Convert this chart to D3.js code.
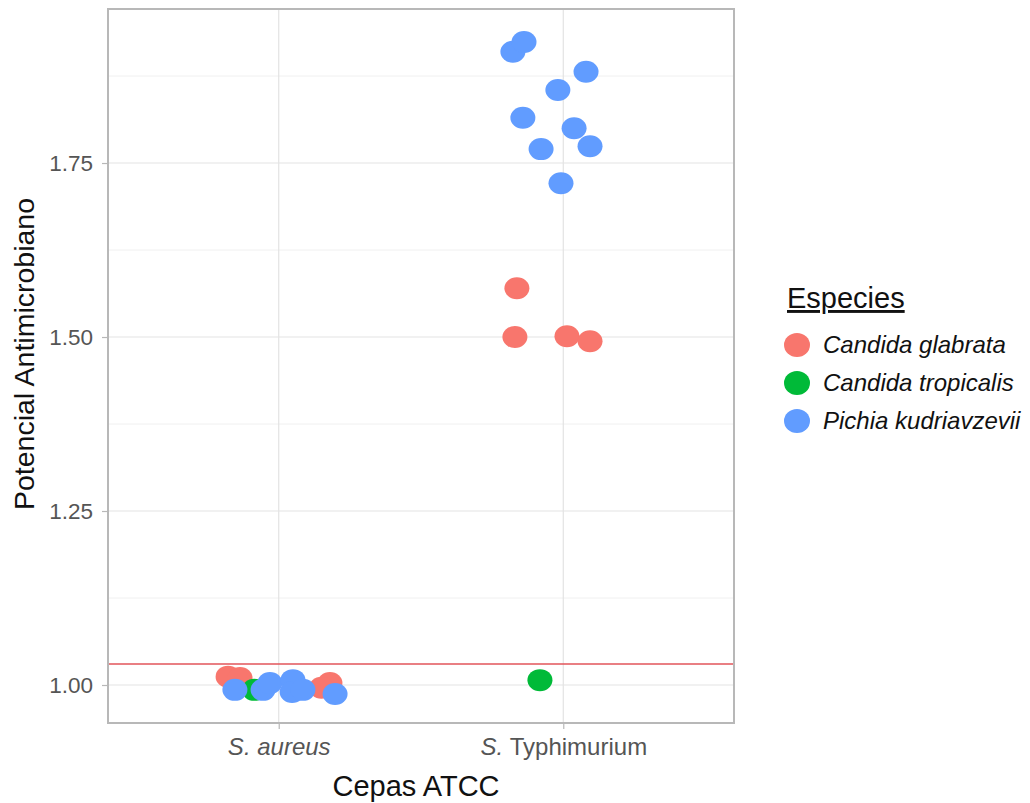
<!DOCTYPE html>
<html>
<head>
<meta charset="utf-8">
<script src="https://cdn.jsdelivr.net/npm/d3@7"></script>
<style>
  html, body { margin: 0; padding: 0; background: #ffffff; }
  svg { display: block; font-family: "Liberation Sans", Arial, Helvetica, sans-serif; }
</style>
</head>
<body>
<svg id="chart" width="1030" height="803"></svg>
<script>
// Strains on the x axis and the species legend
const categories = ["S. aureus", "S. Typhimurium"];
const species = ["Candida glabrata", "Candida tropicalis", "Pichia kudriavzevii"];
const speciesColors = ["#F8766D", "#00BA38", "#619CFF"];

// Antimicrobial potential per isolate; jitter is the horizontal offset within the strain
const glabrataAureus = [1.012, 1.010, 1.003, 0.996];
const glabrataAureusJitter = [-0.178, -0.136, 0.180, 0.150];
const tropicalisAureus = [0.993];
const tropicalisAureusJitter = [-0.086];
const kudriavzeviiAureus = [0.993, 0.993, 1.003, 1.007, 0.990, 0.993, 0.987];
const kudriavzeviiAureusJitter = [-0.154, -0.055, -0.031, 0.050, 0.047, 0.085, 0.198];

const glabrataTyphi = [1.570, 1.500, 1.501, 1.494];
const glabrataTyphiJitter = [-0.163, -0.170, 0.013, 0.094];
const tropicalisTyphi = [1.007];
const tropicalisTyphiJitter = [-0.082];
const kudriavzeviiTyphi = [1.910, 1.924, 1.881, 1.855, 1.815, 1.800, 1.770, 1.774, 1.721];
const kudriavzeviiTyphiJitter = [-0.177, -0.138, 0.080, -0.019, -0.142, 0.038, -0.078, 0.094, -0.008];

// Reference threshold line
const threshold = 1.03;

// Axis ticks
const yTicks = [1.00, 1.25, 1.50, 1.75];
const yMinorTicks = [1.125, 1.375, 1.625, 1.875];
const yDomain = [0.9454, 1.9713];

// Build a flat point table from the arrays above
function rows(values, jitter, cat, sp) {
  return values.map((v, i) => ({ cat: cat, sp: sp, value: v, jitter: jitter[i] }));
}
const points = [].concat(
  rows(glabrataAureus, glabrataAureusJitter, categories[0], species[0]),
  rows(glabrataTyphi, glabrataTyphiJitter, categories[1], species[0]),
  rows(tropicalisAureus, tropicalisAureusJitter, categories[0], species[1]),
  rows(tropicalisTyphi, tropicalisTyphiJitter, categories[1], species[1]),
  rows(kudriavzeviiAureus, kudriavzeviiAureusJitter, categories[0], species[2]),
  rows(kudriavzeviiTyphi, kudriavzeviiTyphiJitter, categories[1], species[2])
);

const svg = d3.select("#chart");
const panel = { left: 108, right: 734, top: 9, bottom: 723 };

const x = d3.scalePoint().domain(categories).range([panel.left, panel.right]).padding(0.6);
const step = x.step();
const y = d3.scaleLinear().domain(yDomain).range([panel.bottom, panel.top]);
const color = d3.scaleOrdinal().domain(species).range(speciesColors);

// Grid
const grid = svg.append("g");
grid.selectAll("line.minor").data(yMinorTicks).join("line")
  .attr("x1", panel.left).attr("x2", panel.right)
  .attr("y1", d => y(d)).attr("y2", d => y(d))
  .attr("stroke", "#f0f0f0").attr("stroke-width", 1);
grid.selectAll("line.majorY").data(yTicks).join("line")
  .attr("x1", panel.left).attr("x2", panel.right)
  .attr("y1", d => y(d)).attr("y2", d => y(d))
  .attr("stroke", "#e3e3e3").attr("stroke-width", 1.2);
grid.selectAll("line.majorX").data(categories).join("line")
  .attr("x1", d => x(d)).attr("x2", d => x(d))
  .attr("y1", panel.top).attr("y2", panel.bottom)
  .attr("stroke", "#e3e3e3").attr("stroke-width", 1.2);

// Threshold line
svg.append("line")
  .attr("x1", panel.left).attr("x2", panel.right)
  .attr("y1", y(threshold)).attr("y2", y(threshold))
  .attr("stroke", "#e2545a").attr("stroke-width", 1.5);

// Points
svg.append("g").selectAll("ellipse").data(points).join("ellipse")
  .attr("cx", d => x(d.cat) + d.jitter * step)
  .attr("cy", d => y(d.value))
  .attr("rx", 12.5).attr("ry", 11)
  .attr("fill", d => color(d.sp));

// Panel border
svg.append("rect")
  .attr("x", panel.left).attr("y", panel.top)
  .attr("width", panel.right - panel.left).attr("height", panel.bottom - panel.top)
  .attr("fill", "none").attr("stroke", "#b8b8b8").attr("stroke-width", 2);

// Y axis
const yAxis = svg.append("g")
  .attr("transform", `translate(${panel.left - 1},0)`)
  .call(d3.axisLeft(y).tickValues(yTicks).tickFormat(d3.format(".2f")).tickSize(5).tickPadding(9));
yAxis.select(".domain").remove();
yAxis.selectAll(".tick line").attr("stroke", "#b8b8b8").attr("stroke-width", 1.2);
yAxis.selectAll(".tick text")
  .attr("fill", "#555555").attr("font-size", 22.5)
  .attr("font-family", "Liberation Sans, Arial, sans-serif");

// X axis
const xAxis = svg.append("g")
  .attr("transform", `translate(0,${panel.bottom + 1})`)
  .call(d3.axisBottom(x).tickSize(5).tickPadding(9));
xAxis.select(".domain").remove();
xAxis.selectAll(".tick line").attr("stroke", "#b8b8b8").attr("stroke-width", 1.2);
xAxis.selectAll(".tick text")
  .attr("fill", "#555555").attr("font-size", 24)
  .attr("font-family", "Liberation Sans, Arial, sans-serif")
  .text(null)
  .each(function (d) {
    const t = d3.select(this);
    const parts = d.split(" ");
    t.append("tspan").attr("font-style", "italic").text(parts[0] + " ");
    t.append("tspan").attr("font-style", d === "S. aureus" ? "italic" : "normal").text(parts.slice(1).join(" "));
  });

// Axis titles
svg.append("text")
  .attr("x", (panel.left + panel.right) / 2 - 5).attr("y", 796)
  .attr("text-anchor", "middle").attr("font-size", 29).attr("fill", "#111")
  .text("Cepas ATCC");
svg.append("text")
  .attr("transform", `translate(34,${(panel.top + panel.bottom) / 2 - 12}) rotate(-90)`)
  .attr("text-anchor", "middle").attr("font-size", 28.5).attr("fill", "#111")
  .text("Potencial Antimicrobiano");

// Legend
const legend = svg.append("g").attr("transform", "translate(787,0)");
legend.append("text")
  .attr("x", 0).attr("y", 308)
  .attr("font-size", 29).attr("fill", "#111")
  .attr("text-decoration", "underline")
  .text("Especies");
const item = legend.selectAll("g.item").data(species).join("g")
  .attr("transform", (d, i) => `translate(0,${345 + i * 38})`);
item.append("ellipse").attr("cx", 10).attr("cy", 0).attr("rx", 13).attr("ry", 12)
  .attr("fill", d => color(d));
item.append("text").attr("x", 36).attr("y", 8)
  .attr("font-size", 24).attr("font-style", "italic").attr("fill", "#111")
  .text(d => d);
</script>
</body>
</html>
